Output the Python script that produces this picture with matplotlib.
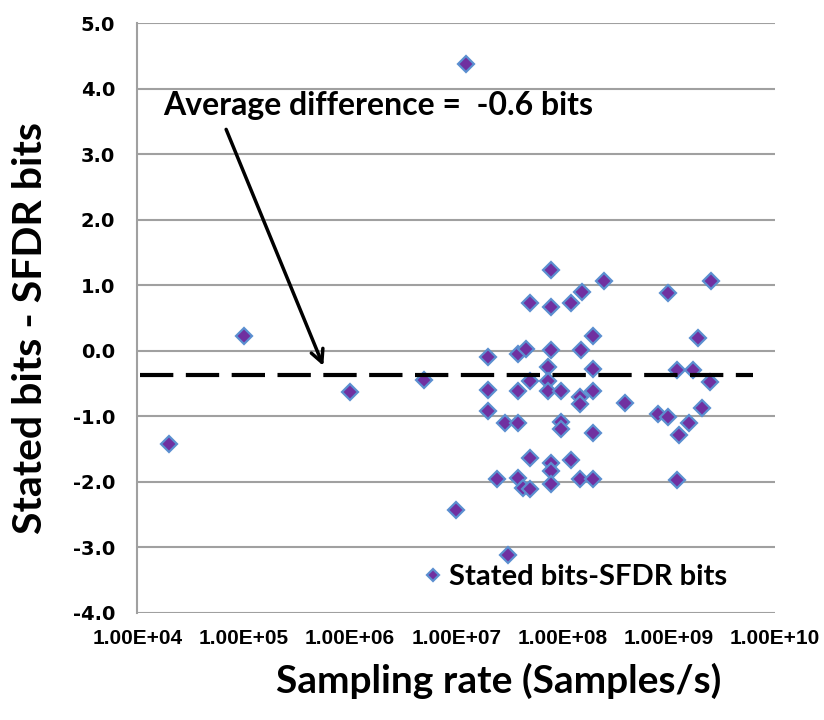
import numpy as np
import matplotlib
matplotlib.use('Agg')
import matplotlib.pyplot as plt
from matplotlib import font_manager as fm
from matplotlib.ticker import FixedLocator, FixedFormatter

# sampling rate (Samples/s) and stated bits - SFDR bits
rates = [2.0e4, 1.0e5, 1.0e6, 5.0e6, 1.0e7, 1.24e7,
         2.0e7, 2.0e7, 2.0e7, 2.4e7, 2.9e7, 3.1e7,
         3.8e7, 3.8e7, 3.8e7, 3.8e7, 4.3e7, 4.5e7,
         5.0e7, 5.0e7, 5.0e7, 5.0e7,
         7.3e7, 7.3e7, 7.3e7,
         7.8e7, 7.8e7, 7.8e7, 7.8e7, 7.8e7, 7.8e7,
         9.8e7, 9.8e7, 9.8e7, 1.2e8, 1.2e8,
         1.46e8, 1.46e8, 1.46e8, 1.5e8, 1.54e8,
         1.95e8, 1.95e8, 1.95e8, 1.95e8, 1.95e8,
         2.46e8, 3.9e8, 7.9e8, 9.8e8, 9.8e8,
         1.2e9, 1.2e9, 1.24e9, 1.56e9, 1.7e9,
         1.9e9, 2.08e9, 2.46e9, 2.5e9]
diffs = [-1.43, 0.22, -0.63, -0.45, -2.43, 4.38,
         -0.10, -0.60, -0.92, -1.96, -1.11, -3.12,
         -0.05, -0.62, -1.11, -1.94, -2.09, 0.03,
         0.73, -0.46, -1.63, -2.11,
         -0.25, -0.46, -0.62,
         1.23, 0.67, 0.01, -1.72, -1.84, -2.03,
         -0.62, -1.09, -1.19, 0.73, -1.67,
         -0.71, -0.82, -1.96, 0.01, 0.90,
         0.23, -0.28, -0.62, -1.25, -1.96,
         1.07, -0.80, -0.97, 0.88, -1.01,
         -0.29, -1.97, -1.29, -1.11, -0.29,
         0.20, -0.87, -0.48, 1.06]

avg_line = -0.365
x_ticks = [1e4, 1e5, 1e6, 1e7, 1e8, 1e9, 1e10]
x_labels = ['1.00E+04', '1.00E+05', '1.00E+06', '1.00E+07',
            '1.00E+08', '1.00E+09', '1.00E+10']
y_ticks = np.arange(-4, 5.1, 1.0)

installed = {f.name for f in fm.fontManager.ttflist}
narrow = 'Liberation Sans Narrow' if 'Liberation Sans Narrow' in installed else 'Liberation Sans'
main_font = 'Lato'

fig = plt.figure(figsize=(8.24, 7.2), dpi=100)
ax = fig.add_axes([0.1666, 0.149, 0.7739, 0.8186])

ax.set_xscale('log')
ax.set_xlim(1e4, 1e10)
ax.set_ylim(-4, 5)

# grid (horizontal only)
for v in y_ticks:
    ax.axhline(v, color='#a0a0a0', lw=1.5, zorder=1)

for s in ['top', 'right', 'bottom']:
    ax.spines[s].set_visible(False)
ax.spines['left'].set_color('#a0a0a0')
ax.spines['left'].set_linewidth(1.5)

ax.plot(rates, diffs, linestyle='', marker='D', markersize=8,
        markerfacecolor='#7030a0', markeredgecolor='#5b8fd0',
        markeredgewidth=1.6, label='Stated bits-SFDR bits', zorder=3)

ax.plot([1.05e4, 6.2e9], [avg_line, avg_line], color='black', lw=3,
        dashes=(8, 3), zorder=4)

ax.text(1.75e4, 3.6, 'Average difference =  -0.6 bits', fontsize=23,
        fontweight='bold', family=main_font, va='baseline', ha='left')
ax.annotate('', xy=(5.76e5, -0.27), xytext=(6.7e4, 3.42),
            arrowprops=dict(arrowstyle='->,head_length=0.9,head_width=0.45',
                            color='black', lw=2.5))

ax.xaxis.set_major_locator(FixedLocator(x_ticks))
ax.xaxis.set_major_formatter(FixedFormatter(x_labels))
ax.xaxis.set_minor_locator(FixedLocator([]))
ax.set_yticks(y_ticks)
ax.set_yticklabels(['%.1f' % v for v in y_ticks])
ax.tick_params(axis='both', length=0)
ax.tick_params(axis='x', pad=12)
ax.tick_params(axis='y', pad=16)
for lab in ax.get_xticklabels():
    lab.set_fontfamily(narrow)
    lab.set_fontweight('bold')
    lab.set_fontsize(15)
for lab in ax.get_yticklabels():
    lab.set_fontfamily('DejaVu Sans')
    lab.set_fontweight('bold')
    lab.set_fontsize(14)

ax.set_ylabel('Stated bits - SFDR bits', fontsize=29.5, fontweight='bold',
              family=main_font)
ax.yaxis.label.set_va('center')
ax.yaxis.set_label_coords(-0.167, 0.483)
ax.set_xlabel('Sampling rate (Samples/s)', fontsize=28, fontweight='bold',
              family=main_font)
ax.xaxis.set_label_coords(0.566, -0.085)

leg = ax.legend(loc='lower left', bbox_to_anchor=(0.427, 0.018), frameon=False,
                prop={'family': main_font, 'weight': 'bold', 'size': 21},
                handlelength=0.8, handletextpad=0.15, borderaxespad=0,
                markerscale=0.8)

fig.savefig('out.png', dpi=100)
